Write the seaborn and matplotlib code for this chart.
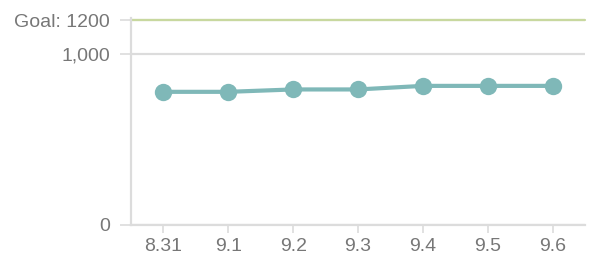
import matplotlib
matplotlib.use("Agg")
import matplotlib.pyplot as plt
import seaborn as sns
import pandas as pd

dates = ["8.31", "9.1", "9.2", "9.3", "9.4", "9.5", "9.6"]
values = [780, 780, 794, 794, 815, 815, 815]
goal = 1200
ytick_vals = [0, 1000]
ytick_labels = ["0", "1,000"]

sns.set_theme(style="white")
plt.rcParams["font.family"] = ["Liberation Sans", "DejaVu Sans"]

line_color = "#7fb8b8"
goal_color = "#c8d89f"
grid_color = "#dcdcdc"
text_color = "#777777"

fig = plt.figure(figsize=(6.14, 2.74), dpi=100)
ax = fig.add_axes([131 / 614, 49.5 / 274, 454 / 614, 207 / 274])

df = pd.DataFrame({"date": dates, "value": values})
sns.lineplot(data=df, x="date", y="value", ax=ax, color=line_color,
             linewidth=3.0, marker="o", markersize=12.5,
             markeredgewidth=0, sort=False, zorder=3)

ax.axhline(goal, color=goal_color, linewidth=1.6, zorder=2, clip_on=False)

ax.set_xlim(-0.5, len(dates) - 0.5)
ax.set_ylim(0, 1217)

ax.set_yticks(ytick_vals + [goal])
ax.set_yticklabels(ytick_labels + [f"Goal: {goal}"])
ticks = ax.yaxis.get_major_ticks()
ticks[-1].tick1line.set_visible(False)
ticks[-1].gridline.set_visible(False)
ticks[-1].label1.set_color("#666666")

ax.yaxis.grid(True, color=grid_color, linewidth=1.6)
ax.xaxis.grid(False)
ax.set_axisbelow(True)
ax.set_xlabel("")
ax.set_ylabel("")

for s in ["top", "right"]:
    ax.spines[s].set_visible(False)
for s in ["left", "bottom"]:
    ax.spines[s].set_color(grid_color)
    ax.spines[s].set_linewidth(1.6)

ax.tick_params(axis="y", which="major", length=8, width=1.2, color=grid_color,
               pad=7, labelsize=14, labelcolor=text_color, left=True)
ax.tick_params(axis="x", which="major", length=6, width=1.2, color=grid_color,
               pad=4, labelsize=14, labelcolor=text_color, bottom=True)

fig.savefig("out.png", dpi=100, facecolor="white")
